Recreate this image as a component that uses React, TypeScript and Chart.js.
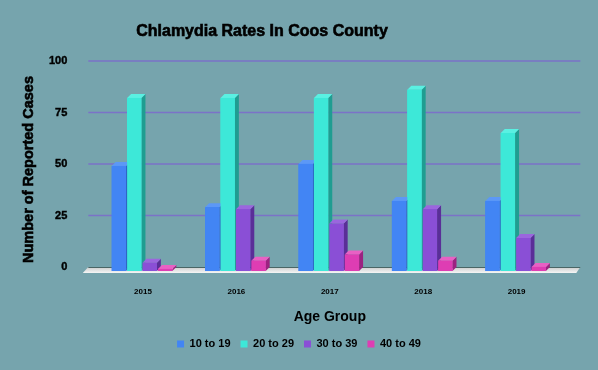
import React, { useEffect, useRef } from "react";
import { Chart, registerables } from "chart.js";

Chart.register(...registerables);

const years = ["2015", "2016", "2017", "2018", "2019"];
const seriesNames = ["10 to 19", "20 to 29", "30 to 39", "40 to 49"];
const ages10to19 = [51, 31, 52, 34, 34];
const ages20to29 = [84, 84, 84, 88, 67];
const ages30to39 = [4, 30, 23, 30, 16];
const ages40to49 = [1, 5, 8, 5, 2];
const yMin = 0;
const yMax = 100;
const yStep = 25;

const chartTitle = "Chlamydia Rates In Coos County";
const xTitle = "Age Group";
const yTitle = "Number of Reported Cases";

const FONT = "'Liberation Sans', Arial, Helvetica, sans-serif";
const BG = "#76a4ad";
const GRID = "#7b72c8";
const FRONT = ["#4285f4", "#3de8d8", "#8a4fd6", "#de3db3"];
const TOP = ["#5c98f6", "#5af0e2", "#9b66de", "#e960c4"];
const SIDE = ["#2d62c2", "#1f9d91", "#5a2e98", "#9c2281"];
const DX = -1;
const DY = 4;
const DEPTH = 4;

const decor = {
  id: "decor",
  beforeDraw(chart: any) {
    const { ctx, width, height } = chart;
    ctx.save();
    ctx.fillStyle = BG;
    ctx.fillRect(0, 0, width, height);
    ctx.restore();
  },
  beforeDatasetsDraw(chart: any) {
    const { ctx, chartArea } = chart;
    const y = chart.scales.y;
    const x0 = chartArea.left - 8;
    const x1 = chartArea.right + 17;
    ctx.save();
    ctx.strokeStyle = GRID;
    ctx.lineWidth = 1.5;
    for (const t of y.ticks) {
      if (t.value === yMin) continue;
      const py = y.getPixelForValue(t.value);
      ctx.beginPath();
      ctx.moveTo(x0, py);
      ctx.lineTo(x1, py);
      ctx.stroke();
    }
    // floor
    const base = y.getPixelForValue(yMin);
    const g = ctx.createLinearGradient(0, base, 0, base + 6);
    g.addColorStop(0, "#c9cccc");
    g.addColorStop(1, "#f6f6f6");
    ctx.fillStyle = g;
    ctx.beginPath();
    ctx.moveTo(x0, base);
    ctx.lineTo(x1, base);
    ctx.lineTo(x1 - 4, base + 6);
    ctx.lineTo(x0 - 5.5, base + 6);
    ctx.closePath();
    ctx.fill();
    ctx.strokeStyle = "#4a6666";
    ctx.lineWidth = 1;
    ctx.beginPath();
    ctx.moveTo(x0, base + 0.5);
    ctx.lineTo(x1, base + 0.5);
    ctx.stroke();
    ctx.restore();
    ctx.save();
    ctx.translate(DX, DY);
  },
  afterDatasetsDraw(chart: any) {
    const { ctx } = chart;
    const n = chart.data.datasets.length;
    for (let i = 0; i < n; i++) {
      const meta = chart.getDatasetMeta(i);
      meta.data.forEach((el: any) => {
        const p = el.getProps(["x", "y", "base", "width"], true);
        const l = p.x - p.width / 2;
        const r = p.x + p.width / 2;
        const top = Math.min(p.y, p.base);
        const bot = Math.max(p.y, p.base);
        ctx.fillStyle = SIDE[i];
        ctx.beginPath();
        ctx.moveTo(r, top);
        ctx.lineTo(r + DEPTH, top - DEPTH);
        ctx.lineTo(r + DEPTH, bot - DEPTH);
        ctx.lineTo(r, bot);
        ctx.closePath();
        ctx.fill();
        ctx.fillStyle = TOP[i];
        ctx.beginPath();
        ctx.moveTo(l, top);
        ctx.lineTo(l + DEPTH, top - DEPTH);
        ctx.lineTo(r + DEPTH, top - DEPTH);
        ctx.lineTo(r, top);
        ctx.closePath();
        ctx.fill();
        ctx.fillStyle = FRONT[i];
        ctx.fillRect(l, top, r - l, bot - top);
      });
    }
    ctx.restore();
  },
  afterDraw(chart: any) {
    const { ctx } = chart;
    ctx.save();
    ctx.fillStyle = "#000";
    ctx.strokeStyle = "#000";
    ctx.lineWidth = 0.6;
    ctx.textAlign = "center";
    ctx.textBaseline = "middle";
    ctx.font = `bold 16px ${FONT}`;
    ctx.fillText(chartTitle, 262, 32);
    ctx.strokeText(chartTitle, 262, 32);
    ctx.translate(29, 169.5);
    ctx.rotate(-Math.PI / 2);
    ctx.font = `bold 14.5px ${FONT}`;
    ctx.fillText(yTitle, 0, 0);
    ctx.strokeText(yTitle, 0, 0);
    ctx.restore();
  },
};

export default function App() {
  const ref = useRef<HTMLCanvasElement | null>(null);
  useEffect(() => {
    if (!ref.current) return;
    const seriesValues = [ages10to19, ages20to29, ages30to39, ages40to49];
    const chart = new Chart(ref.current, {
      type: "bar",
      data: {
        labels: years,
        datasets: seriesNames.map((name, i) => ({
          label: name,
          data: seriesValues[i],
          backgroundColor: FRONT[i],
          borderWidth: 0,
          categoryPercentage: 0.66,
          barPercentage: 0.93,
          clip: false as any,
        })),
      },
      options: {
        animation: false,
        responsive: false,
        devicePixelRatio: 1,
        layout: { padding: { top: 61, left: 0, right: 0, bottom: 10.5 } },
        plugins: {
          title: { display: false },
          tooltip: { enabled: false },
          legend: {
            position: "bottom",
            labels: {
              boxWidth: 7,
              boxHeight: 7,
              padding: 10,
              color: "#000",
              font: { family: FONT, size: 11, weight: "bold" },
            },
          },
        },
        scales: {
          x: {
            grid: { display: false },
            border: { display: false },
            ticks: {
              color: "#000",
              padding: 12,
              maxRotation: 0,
              font: { family: FONT, size: 8, weight: "bold" },
            },
            title: {
              display: true,
              text: xTitle,
              color: "#000",
              font: { family: FONT, size: 14, weight: "bold" },
              padding: { top: 0, bottom: 3.4 },
            },
            afterFit: (s: any) => {
              s.height = 61.5;
            },
          },
          y: {
            min: yMin,
            max: yMax,
            grid: { display: false },
            border: { display: false },
            ticks: {
              stepSize: yStep,
              color: "#000",
              padding: 21,
              textStrokeColor: "#000",
              textStrokeWidth: 0.4,
              font: { family: FONT, size: 11, weight: "bold" },
            },
            afterFit: (s: any) => {
              s.width = 96.3;
            },
          },
          yRight: {
            type: "linear",
            position: "right",
            display: true,
            grid: { display: false },
            border: { display: false },
            ticks: { display: false },
            afterFit: (s: any) => {
              s.width = 34.7;
            },
          },
        },
      },
      plugins: [decor],
    } as any);
    return () => chart.destroy();
  }, []);
  return (
    <div style={{ position: "fixed", left: 0, top: 0, width: 598, height: 370, background: BG }}>
      <canvas ref={ref} width={598} height={370} style={{ display: "block" }} />
    </div>
  );
}
